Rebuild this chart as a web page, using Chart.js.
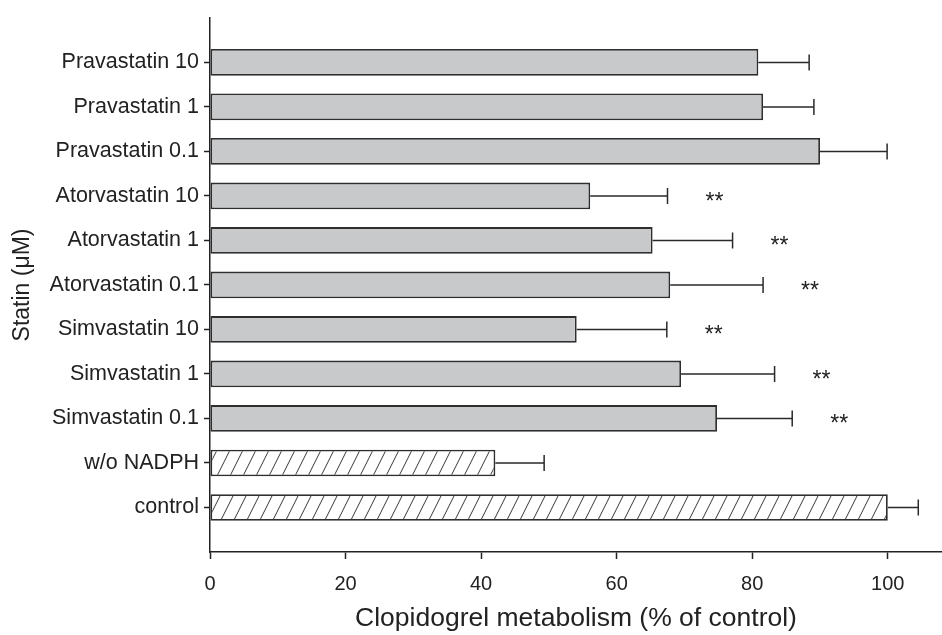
<!DOCTYPE html>
<html>
<head>
<meta charset="utf-8">
<script src="https://cdn.jsdelivr.net/npm/chart.js@4/dist/chart.umd.min.js"></script>
<style>
  html, body { margin: 0; padding: 0; background: #fff; }
  #wrap { width: 942px; height: 635px; }
</style>
</head>
<body>
<div id="wrap"><canvas id="c" width="942" height="635"></canvas></div>
<script>
const categories = ['Pravastatin 10', 'Pravastatin 1', 'Pravastatin 0.1', 'Atorvastatin 10', 'Atorvastatin 1', 'Atorvastatin 0.1', 'Simvastatin 10', 'Simvastatin 1', 'Simvastatin 0.1', 'w/o NADPH', 'control'];
const means = [80.9, 81.6, 90.0, 56.1, 65.3, 67.9, 54.1, 69.5, 74.8, 42.1, 100];
const errors = [7.5, 7.5, 9.9, 11.4, 11.8, 13.7, 13.3, 13.8, 11.1, 7.2, 4.5];
const significance = ['', '', '', '**', '**', '**', '**', '**', '**', '', ''];
const hatched = [false, false, false, false, false, false, false, false, false, true, true];
const xTicks = [0, 20, 40, 60, 80, 100];
const xTitle = 'Clopidogrel metabolism (% of control)';
const yTitle = 'Statin (\u03bcM)';

const FONT = "'Liberation Sans', Arial, Helvetica, sans-serif";
const INK = '#222222';

function makeHatch() {
  const w = 13, h = 26;
  const c = document.createElement('canvas');
  c.width = w; c.height = h;
  const g = c.getContext('2d');
  g.fillStyle = '#ffffff';
  g.fillRect(0, 0, w, h);
  g.strokeStyle = '#3a3a3a';
  g.lineWidth = 1;
  for (let k = -1; k <= 1; k++) {
    g.beginPath();
    g.moveTo(k * w, h);
    g.lineTo(k * w + w, 0);
    g.stroke();
  }
  return document.getElementById('c').getContext('2d').createPattern(c, 'repeat');
}
const hatch = makeHatch();

const errorBarPlugin = {
  id: 'errorBars',
  afterDatasetsDraw(chart) {
    const ctx = chart.ctx;
    const xs = chart.scales.x;
    const meta = chart.getDatasetMeta(0);
    ctx.save();
    ctx.strokeStyle = '#2a2a2a';
    ctx.lineWidth = 1.5;
    meta.data.forEach((el, i) => {
      const y = el.y;
      const x0 = xs.getPixelForValue(means[i]);
      const x1 = xs.getPixelForValue(means[i] + errors[i]);
      ctx.beginPath();
      ctx.moveTo(x0, y);
      ctx.lineTo(x1, y);
      ctx.moveTo(x1, y - 8);
      ctx.lineTo(x1, y + 8);
      ctx.stroke();
      if (significance[i]) {
        ctx.fillStyle = INK;
        ctx.font = '23px ' + FONT;
        ctx.textAlign = 'left';
        ctx.textBaseline = 'alphabetic';
        ctx.fillText(significance[i], x1 + 38, y + 13);
      }
    });
    ctx.restore();
  }
};

new Chart(document.getElementById('c'), {
  type: 'bar',
  data: {
    datasets: [{
      data: means.map((v, i) => ({ x: v, y: i })),
      backgroundColor: (ctx) => hatched[ctx.dataIndex] ? hatch : '#c8c9cb',
      borderColor: '#2e2e2e',
      borderWidth: 1.8,
      borderSkipped: false,
      barPercentage: 0.6,
      categoryPercentage: 1.0
    }]
  },
  options: {
    indexAxis: 'y',
    responsive: false,
    animation: false,
    devicePixelRatio: 1,
    layout: { padding: { top: 15, right: 0, left: 0, bottom: 0 } },
    plugins: { legend: { display: false }, tooltip: { enabled: false } },
    scales: {
      x: {
        type: 'linear',
        min: 0,
        max: 108,
        afterBuildTicks: (s) => { s.ticks = xTicks.map(v => ({ value: v })); },
        afterFit: (s) => { s.height = 83; },
        grid: { display: true, drawOnChartArea: false, tickLength: 7, tickColor: INK, tickWidth: 1.5 },
        border: { display: true, color: INK, width: 1.5 },
        ticks: { color: INK, font: { family: FONT, size: 20 }, padding: 13, maxRotation: 0 },
        title: { display: true, text: xTitle, color: INK, font: { family: FONT, size: 26.5 }, padding: { top: 0, bottom: 0 } }
      },
      y: {
        type: 'linear',
        min: -1,
        max: 11,
        reverse: true,
        offset: false,
        afterBuildTicks: (s) => { s.ticks = categories.map((c, i) => ({ value: i })); },
        afterFit: (s) => { s.width = 210; },
        grid: { display: true, offset: false, drawOnChartArea: false, tickLength: 6, tickColor: INK, tickWidth: 1.5 },
        border: { display: true, color: INK, width: 1.5 },
        ticks: { color: INK, font: { family: FONT, size: 21.5 }, padding: 5, callback: (v) => categories[v] },
        title: { display: true, text: yTitle, color: INK, font: { family: FONT, size: 23 }, padding: { top: 9 } }
      }
    }
  },
  plugins: [errorBarPlugin]
});
</script>
</body>
</html>
